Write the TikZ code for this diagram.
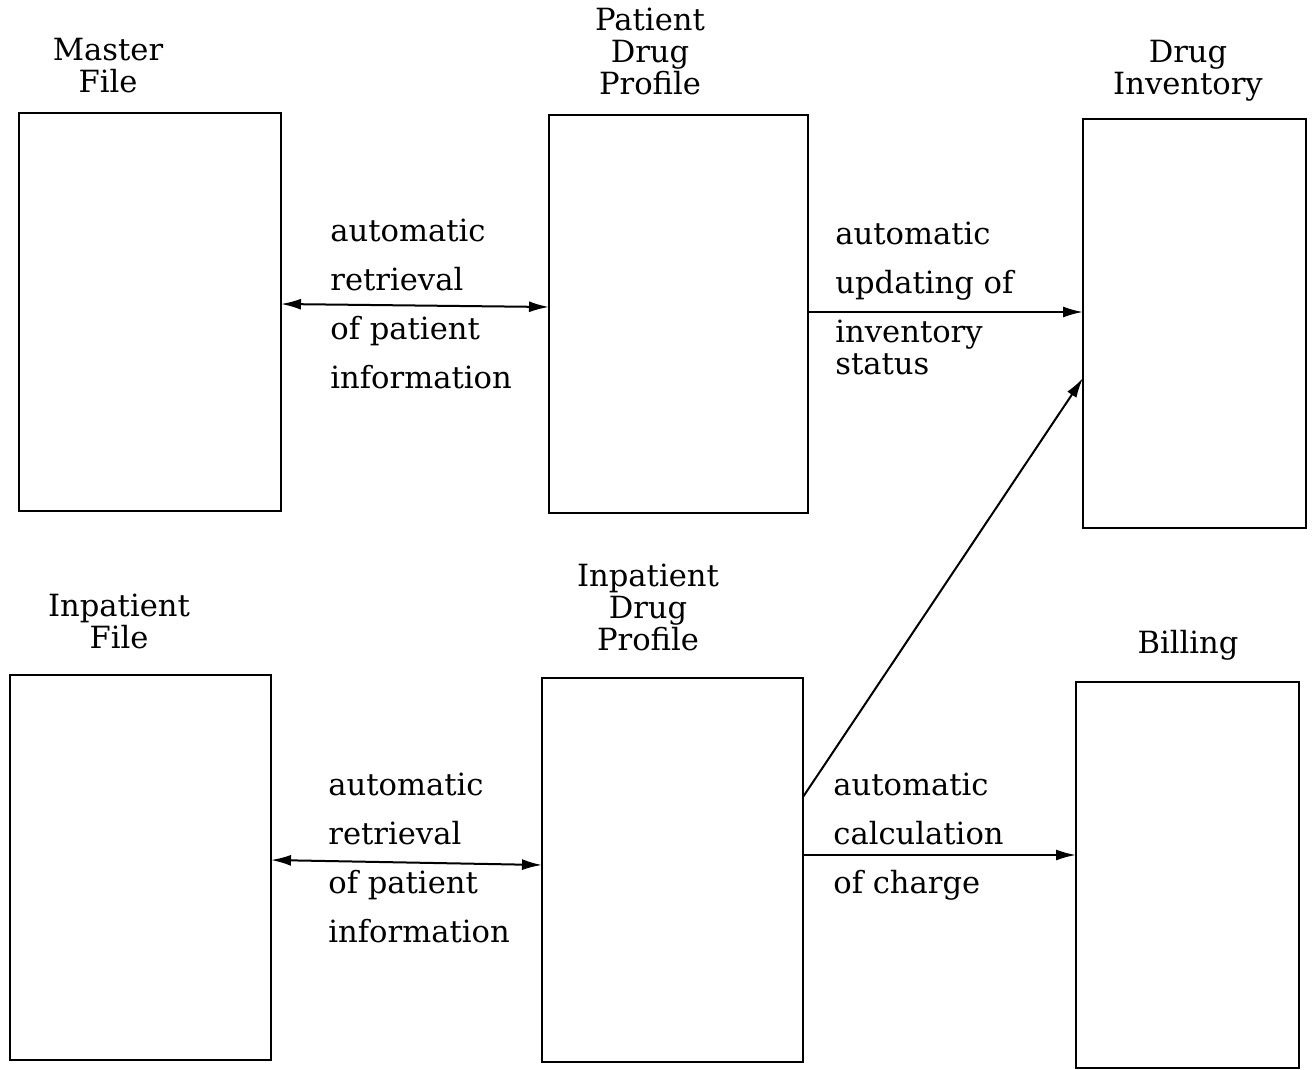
\documentclass[tikz,border=0pt]{standalone}
\usepackage{fontspec}
\setmainfont{DejaVu Serif}
\usetikzlibrary{arrows.meta}
\begin{document}
\begin{tikzpicture}[x=0.5pt,y=-0.5pt,
  box/.style={draw, line width=1.2pt, rectangle, inner sep=0pt, outer sep=0pt},
  title/.style={align=center, anchor=base, inner sep=0pt, font=\fontsize{15.3}{16}\selectfont},
  lbl/.style={align=left, anchor=base west, inner sep=0pt, font=\fontsize{15.3}{24.5}\selectfont},
  conn/.style={line width=1pt, -{Latex[length=10pt,width=5.5pt]}},
  dconn/.style={line width=1pt, {Latex[length=10pt,width=5.5pt]}-{Latex[length=10pt,width=5.5pt]}}]
\useasboundingbox (0,0) rectangle (1314,1070);
% boxes
\node[box, minimum width=131pt, minimum height=199pt] (mf) at (150,312) {};
\node[box, minimum width=129.5pt, minimum height=199pt] (pdp) at (678.5,314) {};
\node[box, minimum width=111.5pt, minimum height=204.5pt] (di) at (1194.5,323.5) {};
\node[box, minimum width=130.5pt, minimum height=192.5pt] (inf) at (140.5,867.5) {};
\node[box, minimum width=130.5pt, minimum height=192pt] (idp) at (672.5,870) {};
\node[box, minimum width=111.5pt, minimum height=193pt] (bil) at (1187.5,875) {};
% titles (anchor = baseline of last line)
\node[title] (tmf) at (108,93) {Master\\File};
\node[title] (tpdp) at (650,95) {Patient\\Drug\\Profile};
\node[title] (tdi) at (1188,95) {Drug\\Inventory};
\node[title] (tinf) at (119,648) {Inpatient\\File};
\node[title] (tidp) at (648,650) {Inpatient\\Drug\\Profile};
\node[title] (tbil) at (1188,653) {Billing};
% labels (anchor = baseline of last line)
\node[lbl] (l1) at (330,388) {automatic\\retrieval\\of patient\\information};
\node[lbl] (l2) at (835,374) {automatic\\updating of\\inventory\\[-8.5pt]status};
\node[lbl] (l3) at (328,942) {automatic\\retrieval\\of patient\\information};
\node[lbl] (l4) at (833,893) {automatic\\calculation\\of charge};
% connectors
\coordinate (y1a) at (0,304);
\coordinate (y1b) at (0,307);
\coordinate (y2) at (0,312);
\coordinate (y3) at (0,797);
\coordinate (y4) at (0,378);
\coordinate (y5a) at (0,860);
\coordinate (y5b) at (0,865);
\coordinate (y6) at (0,855);
\draw[dconn] (mf.east |- y1a) -- (pdp.west |- y1b);
\draw[conn] (pdp.east |- y2) -- (di.west |- y2);
\draw[conn] (idp.east |- y3) -- (di.west |- y4);
\draw[dconn] (inf.east |- y5a) -- (idp.west |- y5b);
\draw[conn] (idp.east |- y6) -- (bil.west |- y6);
\end{tikzpicture}
\end{document}
